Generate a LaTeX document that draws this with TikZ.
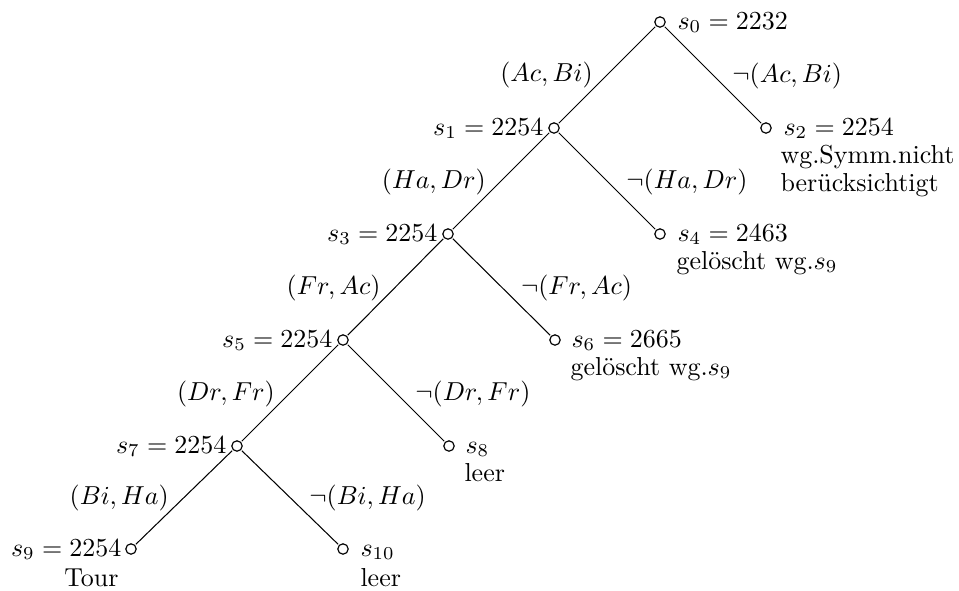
\documentclass[tikz,border=0pt]{standalone}
\usepackage{fontspec}
\usetikzlibrary{calc}
\begin{document}
\begin{tikzpicture}[x=0.385pt,y=-0.385pt,
  st/.style={circle,draw,line width=0.45pt,inner sep=0pt,minimum size=4pt},
  edge/.style={line width=0.4pt,shorten <=0.4pt,shorten >=0.4pt},
  lab/.style={inner sep=0pt},
  el/.style={inner sep=0pt,anchor=south east},
  er/.style={inner sep=0pt,anchor=south west,xshift=1.6pt}]
\useasboundingbox (0,0) rectangle (959,590);
% states
\node[st] (s0) at (660,22) {};
\node[st] (s1) at (554,128) {};
\node[st] (s2) at (766,128) {};
\node[st] (s3) at (448,234) {};
\node[st] (s4) at (660,234) {};
\node[st] (s5) at (343,340) {};
\node[st] (s6) at (555,340) {};
\node[st] (s7) at (237,446) {};
\node[st] (s8) at (449,446) {};
\node[st] (s9) at (131,549) {};
\node[st] (s10) at (343,549) {};
% state labels
\node[lab,anchor=base west] (l0) at ($(s0)+(17,7)$) {$s_0 = 2232$};
\node[lab,anchor=base east] (l1) at ($(s1)+(-10,7)$) {$s_1 = 2254$};
\node[lab,anchor=base west] (l2) at ($(s2)+(17,7)$) {$s_2 = 2254$};
\node[lab,anchor=base west] (l2a) at ($(l2.base west)+(-3,28)$) {wg.Symm.nicht};
\node[lab,anchor=base west] (l2b) at ($(l2a.base west)+(0,28)$) {berücksichtigt};
\node[lab,anchor=base east] (l3) at ($(s3)+(-10,7)$) {$s_3 = 2254$};
\node[lab,anchor=base west] (l4) at ($(s4)+(17,7)$) {$s_4 = 2463$};
\node[lab,anchor=base west] (l4a) at ($(l4.base west)+(-1,28)$) {gelöscht wg.$s_9$};
\node[lab,anchor=base east] (l5) at ($(s5)+(-10,7)$) {$s_5 = 2254$};
\node[lab,anchor=base west] (l6) at ($(s6)+(16,7)$) {$s_6 = 2665$};
\node[lab,anchor=base west] (l6a) at ($(l6.base west)+(-1,28)$) {gelöscht wg.$s_9$};
\node[lab,anchor=base east] (l7) at ($(s7)+(-10,7)$) {$s_7 = 2254$};
\node[lab,anchor=base west] (l8) at ($(s8)+(16,7)$) {$s_8$};
\node[lab,anchor=base west] (l8a) at ($(l8.base west)+(-1,28)$) {leer};
\node[lab,anchor=base east] (l9) at ($(s9)+(-9,7)$) {$s_9 = 2254$};
\node[lab,anchor=base east] (l9a) at ($(l9.base east)+(-3,30)$) {Tour};
\node[lab,anchor=base west] (l10) at ($(s10)+(17,7)$) {$s_{10}$};
\node[lab,anchor=base west] (l10a) at ($(l10.base west)+(0,30)$) {leer};
% edges
\draw[edge] (s0) -- node[el,pos=0.64] (e1) {$(Ac,Bi)$} (s1);
\draw[edge] (s0) -- node[er,pos=0.65] (e2) {$\neg(Ac,Bi)$} (s2);
\draw[edge] (s1) -- node[el,pos=0.65] (e3) {$(Ha,Dr)$} (s3);
\draw[edge] (s1) -- node[er,pos=0.65] (e4) {$\neg(Ha,Dr)$} (s4);
\draw[edge] (s3) -- node[el,pos=0.65] (e5) {$(Fr,Ac)$} (s5);
\draw[edge] (s3) -- node[er,pos=0.65] (e6) {$\neg(Fr,Ac)$} (s6);
\draw[edge] (s5) -- node[el,pos=0.65] (e7) {$(Dr,Fr)$} (s7);
\draw[edge] (s5) -- node[er,pos=0.65] (e8) {$\neg(Dr,Fr)$} (s8);
\draw[edge] (s7) -- node[el,pos=0.65] (e9) {$(Bi,Ha)$} (s9);
\draw[edge] (s7) -- node[er,pos=0.65] (e10) {$\neg(Bi,Ha)$} (s10);
\end{tikzpicture}
\end{document}
